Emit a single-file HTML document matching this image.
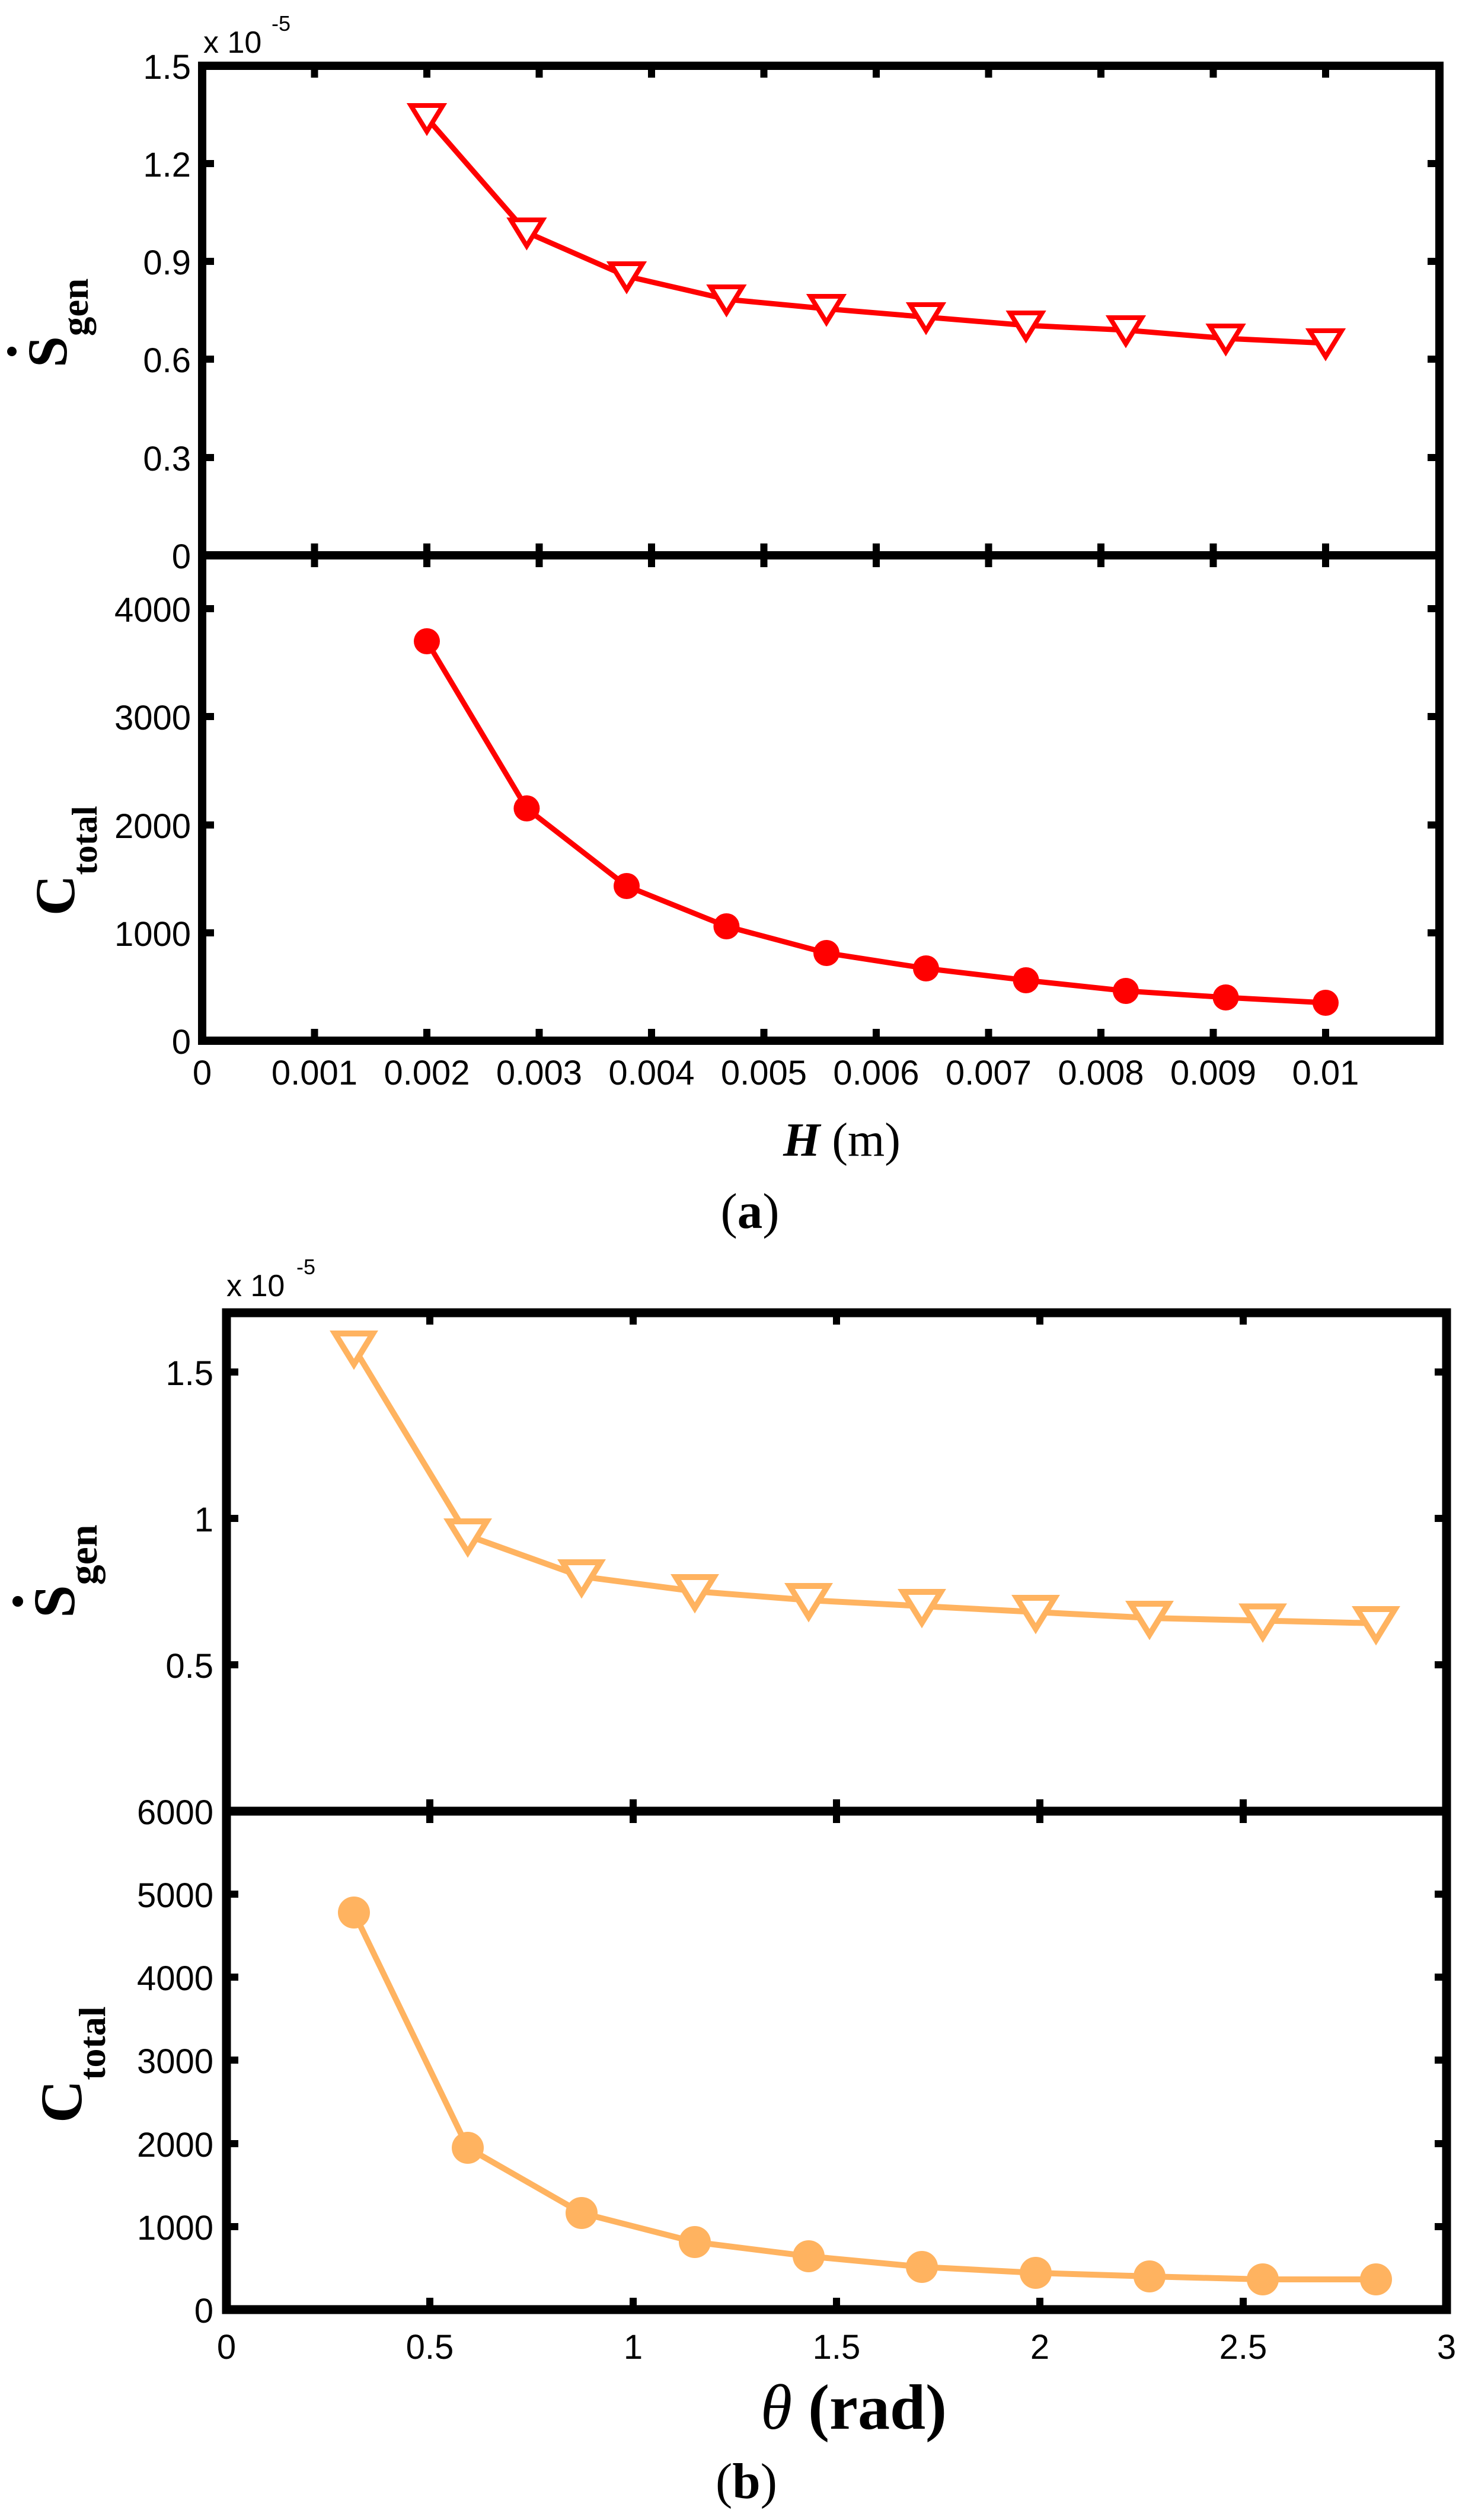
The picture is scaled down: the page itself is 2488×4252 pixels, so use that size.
<!DOCTYPE html>
<html><head><meta charset="utf-8"><style>
html,body{margin:0;padding:0;background:#fff}
svg{display:block}
.t{font-family:"Liberation Sans",sans-serif;font-size:58px;fill:#000}
.s{font-family:"Liberation Serif",serif;fill:#000}
</style></head><body>
<svg width="2488" height="4252" viewBox="0 0 2488 4252" xmlns="http://www.w3.org/2000/svg">
<rect width="2488" height="4252" fill="#fff"/>

<!-- ===== Panel (a) ===== -->
<g stroke="#000" stroke-width="12" fill="none">
  <path d="M530.5,111v20M720,111v20M909.5,111v20M1099,111v20M1288.5,111v20M1478,111v20M1667.5,111v20M1857,111v20M2046.5,111v20M2236,111v20
           M530.5,917v40M720,917v40M909.5,917v40M1099,917v40M1288.5,917v40M1478,917v40M1667.5,917v40M1857,917v40M2046.5,917v40M2236,917v40
           M530.5,1756v-20M720,1756v-20M909.5,1756v-20M1099,1756v-20M1288.5,1756v-20M1478,1756v-20M1667.5,1756v-20M1857,1756v-20M2046.5,1756v-20M2236,1756v-20"/>
  <path d="M341,276h20M341,441h20M341,606h20M341,772h20M2428,276h-20M2428,441h-20M2428,606h-20M2428,772h-20"/>
  <path d="M341,1574h20M341,1392h20M341,1209h20M341,1027h20M2428,1574h-20M2428,1392h-20M2428,1209h-20M2428,1027h-20"/>
</g>
<rect x="341" y="111" width="2087" height="1645" fill="none" stroke="#000" stroke-width="14"/>
<line x1="341" y1="937" x2="2428" y2="937" stroke="#000" stroke-width="14"/>

<polyline fill="none" stroke="#ff0000" stroke-width="9" stroke-linejoin="round"
 points="720,199 888.4,392 1057,466 1225.4,505 1394,521 1562,535 1730.6,549 1899,557 2067.6,571 2236,579"/>
<g fill="#fff" stroke="#ff0000" stroke-width="8">
 <path d="M693,178h54l-27,44z"/>
 <path d="M861.4,371h54l-27,44z"/>
 <path d="M1030,445h54l-27,44z"/>
 <path d="M1198.4,484h54l-27,44z"/>
 <path d="M1367,500h54l-27,44z"/>
 <path d="M1535,514h54l-27,44z"/>
 <path d="M1703.6,528h54l-27,44z"/>
 <path d="M1872,536h54l-27,44z"/>
 <path d="M2040.6,550h54l-27,44z"/>
 <path d="M2209,558h54l-27,44z"/>
</g>
<polyline fill="none" stroke="#ff0000" stroke-width="9" stroke-linejoin="round"
 points="720,1082 888.4,1364 1057,1495 1225.4,1563 1394,1608 1562,1634 1730.6,1654 1899,1672 2067.6,1683 2236,1692"/>
<g fill="#ff0000">
 <circle cx="720" cy="1082" r="22"/><circle cx="888.4" cy="1364" r="22"/><circle cx="1057" cy="1495" r="22"/>
 <circle cx="1225.4" cy="1563" r="22"/><circle cx="1394" cy="1608" r="22"/><circle cx="1562" cy="1634" r="22"/>
 <circle cx="1730.6" cy="1654" r="22"/><circle cx="1899" cy="1672" r="22"/><circle cx="2067.6" cy="1683" r="22"/>
 <circle cx="2236" cy="1692" r="22"/>
</g>

<g class="t" text-anchor="end">
 <text x="322" y="133">1.5</text><text x="322" y="298">1.2</text><text x="322" y="463">0.9</text>
 <text x="322" y="628">0.6</text><text x="322" y="794">0.3</text><text x="322" y="959">0</text>
 <text x="322" y="1049">4000</text><text x="322" y="1231">3000</text><text x="322" y="1414">2000</text>
 <text x="322" y="1596">1000</text><text x="322" y="1778">0</text>
</g>
<g class="t" text-anchor="middle">
 <text x="341" y="1830">0</text><text x="530.5" y="1830">0.001</text><text x="720" y="1830">0.002</text>
 <text x="909.5" y="1830">0.003</text><text x="1099" y="1830">0.004</text><text x="1288.5" y="1830">0.005</text>
 <text x="1478" y="1830">0.006</text><text x="1667.5" y="1830">0.007</text><text x="1857" y="1830">0.008</text>
 <text x="2046.5" y="1830">0.009</text><text x="2236" y="1830">0.01</text>
</g>
<text class="t" x="343" y="89" style="font-size:52px">x 10</text>
<text class="t" x="458" y="52" style="font-size:36px">-5</text>

<text class="s" x="112" y="620" transform="rotate(-90 112 620)" style="font-size:95px;font-weight:bold">S<tspan dy="36" style="font-size:65px">gen</tspan></text>
<circle cx="20" cy="593" r="8" fill="#000"/>
<text class="s" x="125" y="1545" transform="rotate(-90 125 1545)" style="font-size:95px;font-weight:bold">C<tspan dy="38" style="font-size:60px">total</tspan></text>

<text class="s" x="1420" y="1950" text-anchor="middle" style="font-size:80px"><tspan font-style="italic" font-weight="bold">H</tspan> (m)</text>
<text class="s" x="1265" y="2072" text-anchor="middle" style="font-size:85px">(<tspan font-weight="bold">a</tspan>)</text>

<!-- ===== Panel (b) ===== -->
<g stroke="#000" stroke-width="12" fill="none">
  <path d="M725,2215v20M1068,2215v20M1411,2215v20M1754,2215v20M2097,2215v20
           M725,3036v40M1068,3036v40M1411,3036v40M1754,3036v40M2097,3036v40
           M725,3897v-20M1068,3897v-20M1411,3897v-20M1754,3897v-20M2097,3897v-20"/>
  <path d="M382,2315h20M382,2562h20M382,2809h20M2440,2315h-20M2440,2562h-20M2440,2809h-20"/>
  <path d="M382,3757h20M382,3617h20M382,3476h20M382,3336h20M382,3196h20
           M2440,3757h-20M2440,3617h-20M2440,3476h-20M2440,3336h-20M2440,3196h-20"/>
</g>
<rect x="382" y="2215" width="2058" height="1682" fill="none" stroke="#000" stroke-width="15"/>
<line x1="382" y1="3056" x2="2440" y2="3056" stroke="#000" stroke-width="15"/>

<polyline fill="none" stroke="#ffb360" stroke-width="10" stroke-linejoin="round"
 points="597,2274 789,2591 981,2660 1172,2685 1364,2700 1555,2710 1747,2720 1939,2730 2130,2734.5 2321,2739"/>
<g fill="#fff" stroke="#ffb360" stroke-width="10">
 <path d="M565,2250h64l-32,52z"/>
 <path d="M757,2567h64l-32,52z"/>
 <path d="M949,2636h64l-32,52z"/>
 <path d="M1140,2661h64l-32,52z"/>
 <path d="M1332,2676h64l-32,52z"/>
 <path d="M1523,2686h64l-32,52z"/>
 <path d="M1715,2696h64l-32,52z"/>
 <path d="M1907,2706h64l-32,52z"/>
 <path d="M2098,2710.5h64l-32,52z"/>
 <path d="M2289,2715h64l-32,52z"/>
</g>
<polyline fill="none" stroke="#ffb360" stroke-width="10" stroke-linejoin="round"
 points="597,3227 789,3624 981,3734 1172,3783 1364,3807 1555,3825 1747,3835 1939,3841 2130,3846 2321,3846"/>
<g fill="#ffb360">
 <circle cx="597" cy="3227" r="27"/><circle cx="789" cy="3624" r="27"/><circle cx="981" cy="3734" r="27"/>
 <circle cx="1172" cy="3783" r="27"/><circle cx="1364" cy="3807" r="27"/><circle cx="1555" cy="3825" r="27"/>
 <circle cx="1747" cy="3835" r="27"/><circle cx="1939" cy="3841" r="27"/><circle cx="2130" cy="3846" r="27"/>
 <circle cx="2321" cy="3846" r="27"/>
</g>

<g class="t" text-anchor="end">
 <text x="360" y="2337">1.5</text><text x="360" y="2584">1</text><text x="360" y="2831">0.5</text>
 <text x="360" y="3078">6000</text><text x="360" y="3218">5000</text><text x="360" y="3358">4000</text>
 <text x="360" y="3498">3000</text><text x="360" y="3639">2000</text><text x="360" y="3779">1000</text>
 <text x="360" y="3919">0</text>
</g>
<g class="t" text-anchor="middle">
 <text x="382" y="3980">0</text><text x="725" y="3980">0.5</text><text x="1068" y="3980">1</text>
 <text x="1411" y="3980">1.5</text><text x="1754" y="3980">2</text><text x="2097" y="3980">2.5</text>
 <text x="2440" y="3980">3</text>
</g>
<text class="t" x="382" y="2187" style="font-size:52px">x 10</text>
<text class="t" x="500" y="2150" style="font-size:36px">-5</text>

<text class="s" x="125" y="2730" transform="rotate(-90 125 2730)" style="font-size:100px;font-weight:bold">S<tspan dy="38" style="font-size:68px">gen</tspan></text>
<circle cx="30" cy="2702" r="9" fill="#000"/>
<text class="s" x="137" y="3582" transform="rotate(-90 137 3582)" style="font-size:100px;font-weight:bold">C<tspan dy="40" style="font-size:64px">total</tspan></text>

<text class="s" x="1440" y="4098" text-anchor="middle" style="font-size:108px;font-weight:bold"><tspan font-style="italic" font-weight="normal">θ</tspan>  (rad)</text>
<text class="s" x="1259" y="4215" text-anchor="middle" style="font-size:85px">(<tspan font-weight="bold">b</tspan>)</text>
</svg>
</body></html>
